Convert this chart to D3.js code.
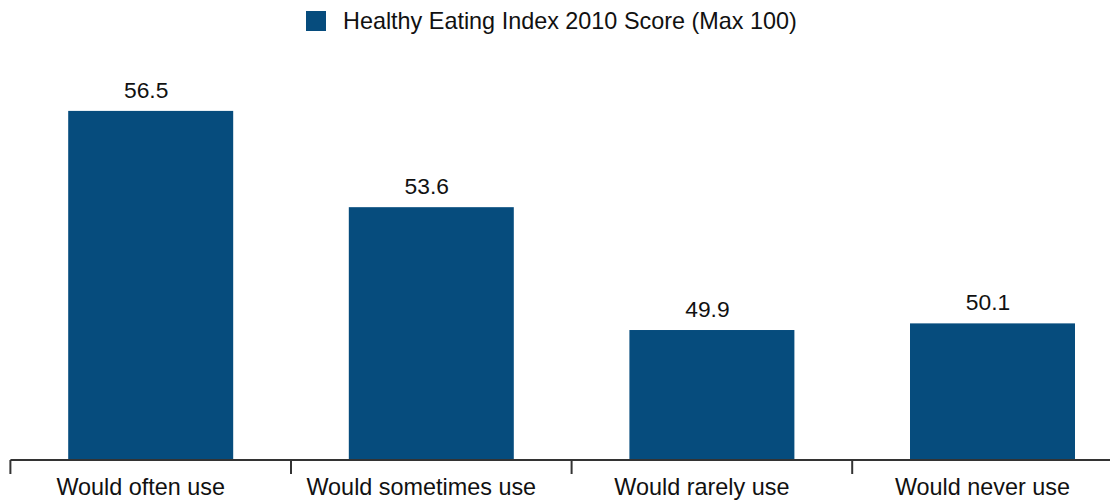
<!DOCTYPE html>
<html>
<head>
<meta charset="utf-8">
<script src="https://cdn.jsdelivr.net/npm/d3@7"></script>
<style>
  html, body { margin: 0; padding: 0; background: #ffffff; }
  svg { display: block; font-family: "Liberation Sans", Arial, Helvetica, sans-serif; }
</style>
</head>
<body>
<svg id="chart" width="1110" height="503"></svg>
<script>
const categories = ["Would often use", "Would sometimes use", "Would rarely use", "Would never use"];
const scores = [56.5, 53.6, 49.9, 50.1];
const seriesName = "Healthy Eating Index 2010 Score (Max 100)";
const valueLabels = ["56.5", "53.6", "49.9", "50.1"];

const W = 1110, H = 503;
const barColor = "#064c7d";
const axisColor = "#333333";
const svg = d3.select("#chart");

const pad = 0.412;
const x = d3.scaleBand()
  .domain(categories)
  .range([10.4, 1132.8])
  .paddingInner(pad)
  .paddingOuter(pad / 2);

const y = d3.scaleLinear()
  .domain([46, 58])
  .range([459.5, 61.1]);

// bars
svg.append("g").selectAll("rect")
  .data(categories)
  .join("rect")
  .attr("x", d => x(d))
  .attr("width", x.bandwidth())
  .attr("y", (d, i) => y(scores[i]))
  .attr("height", (d, i) => y.range()[0] - y(scores[i]))
  .attr("fill", barColor);

// value labels
svg.append("g").selectAll("text")
  .data(categories)
  .join("text")
  .attr("x", d => x(d) + x.bandwidth() / 2 - 4.5)
  .attr("y", (d, i) => y(scores[i]) - 13)
  .attr("text-anchor", "middle")
  .attr("font-size", "22.8px")
  .attr("fill", "#111")
  .text((d, i) => valueLabels[i]);

// x axis line
const axisY = 460;
const step = x.step();
const tickXs = categories.map(d => x(d) - step * pad / 2);
svg.append("line")
  .attr("x1", tickXs[0]).attr("x2", W)
  .attr("y1", axisY).attr("y2", axisY)
  .attr("stroke", axisColor).attr("stroke-width", 2);

svg.append("g").selectAll("line")
  .data(tickXs)
  .join("line")
  .attr("x1", d => d).attr("x2", d => d)
  .attr("y1", axisY).attr("y2", axisY + 14)
  .attr("stroke", axisColor).attr("stroke-width", 2);

// category labels
svg.append("g").selectAll("text")
  .data(categories)
  .join("text")
  .attr("x", d => x(d) + x.bandwidth() / 2 - 10)
  .attr("y", 495)
  .attr("text-anchor", "middle")
  .attr("font-size", "23.4px")
  .attr("fill", "#111")
  .text(d => d);

// legend
const legend = svg.append("g");
legend.append("rect")
  .attr("x", 306).attr("y", 11)
  .attr("width", 20).attr("height", 20)
  .attr("fill", barColor);
legend.append("text")
  .attr("x", 343).attr("y", 29.3)
  .attr("font-size", "23.4px")
  .attr("fill", "#111")
  .text(seriesName);
</script>
</body>
</html>
